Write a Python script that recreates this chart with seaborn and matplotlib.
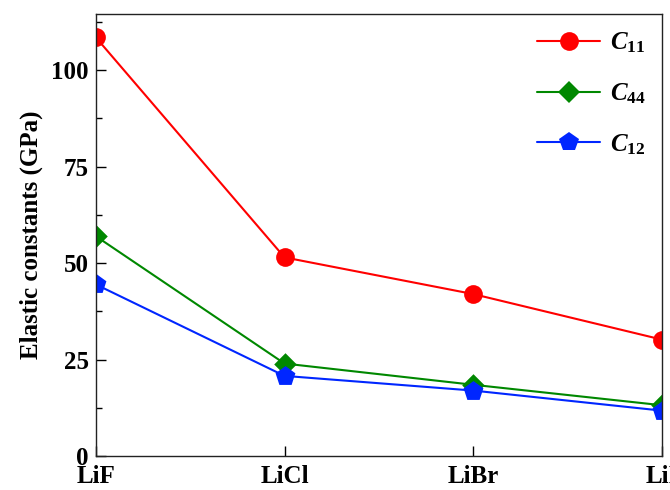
import matplotlib
matplotlib.use("Agg")
import matplotlib.pyplot as plt
from matplotlib.lines import Line2D
import seaborn as sns
import pandas as pd
from matplotlib.ticker import MultipleLocator

compounds = ["LiF", "LiCl", "LiBr", "LiI"]
c11 = [108.5, 51.5, 42.0, 30.2]
c44 = [57.0, 24.0, 18.5, 13.2]
c12 = [44.5, 20.8, 17.0, 11.8]
series_names = ["C11", "C44", "C12"]
series_labels = [r"$C_{11}$", r"$C_{44}$", r"$C_{12}$"]
yticks = [0, 25, 50, 75, 100]

sns.set_style("ticks")
plt.rcParams["font.family"] = ["Liberation Serif", "DejaVu Serif"]
plt.rcParams["font.weight"] = "bold"
plt.rcParams["mathtext.fontset"] = "custom"
plt.rcParams["mathtext.rm"] = "Liberation Serif:bold"
plt.rcParams["mathtext.it"] = "Liberation Serif:italic:bold"
plt.rcParams["mathtext.bf"] = "Liberation Serif:bold"
plt.rcParams["text.color"] = "black"
plt.rcParams["xtick.color"] = "black"
plt.rcParams["ytick.color"] = "black"
plt.rcParams["axes.labelcolor"] = "black"

rows = []
for name, vals in zip(series_names, [c11, c44, c12]):
    for i, v in enumerate(vals):
        rows.append({"x": i, "value": v, "series": name})
df = pd.DataFrame(rows)

fig = plt.figure(figsize=(6.7, 4.9), dpi=100)
ax = fig.add_axes([0.143, 0.069, 0.845, 0.902])

palette = {"C11": "#ff0000", "C44": "#008800", "C12": "#0026ff"}
markers = {"C11": "o", "C44": "D", "C12": "p"}
sizes = {"C11": 13.5, "C44": 11.5, "C12": 15}

handles = []
for name, lab in zip(series_names, series_labels):
    sub = df[df["series"] == name]
    sns.lineplot(data=sub, x="x", y="value", color=palette[name], linewidth=1.5,
                 ax=ax, legend=False)
    sns.scatterplot(data=sub, x="x", y="value", color=palette[name], marker=markers[name],
                    s=sizes[name] ** 2, linewidth=0, ax=ax, legend=False, zorder=3)
    handles.append(Line2D([], [], color=palette[name], marker=markers[name],
                          markersize=sizes[name], markeredgewidth=0, linewidth=1.5,
                          label=lab))

for coll in ax.collections:
    coll.set_clip_on(True)

ax.set_xlim(0, 3)
ax.set_ylim(0, 114.5)
ax.set_xticks(range(len(compounds)))
ax.set_xticklabels(compounds, fontsize=18, fontweight="bold")
ax.set_yticks(yticks)
ax.set_yticklabels([str(t) for t in yticks], fontsize=18, fontweight="bold")
ax.yaxis.set_minor_locator(MultipleLocator(12.5))
ax.tick_params(axis="x", which="major", direction="in", length=7, width=1, pad=6)
ax.tick_params(axis="y", which="major", direction="in", length=7, width=1, pad=5)
ax.tick_params(axis="y", which="minor", direction="in", length=4, width=1)
ax.set_xlabel("")
ax.set_ylabel("Elastic constants (GPa)", fontsize=18, fontweight="bold", labelpad=6)
for s in ax.spines.values():
    s.set_linewidth(1.0)
    s.set_color("#222222")
    s.set_zorder(5)

ax.legend(handles=handles, loc="upper right", frameon=False, fontsize=18,
          handlelength=2.5, labelspacing=1.05, borderaxespad=0.3,
          handletextpad=0.4, borderpad=0.35)

fig.savefig("out.png", dpi=100)
